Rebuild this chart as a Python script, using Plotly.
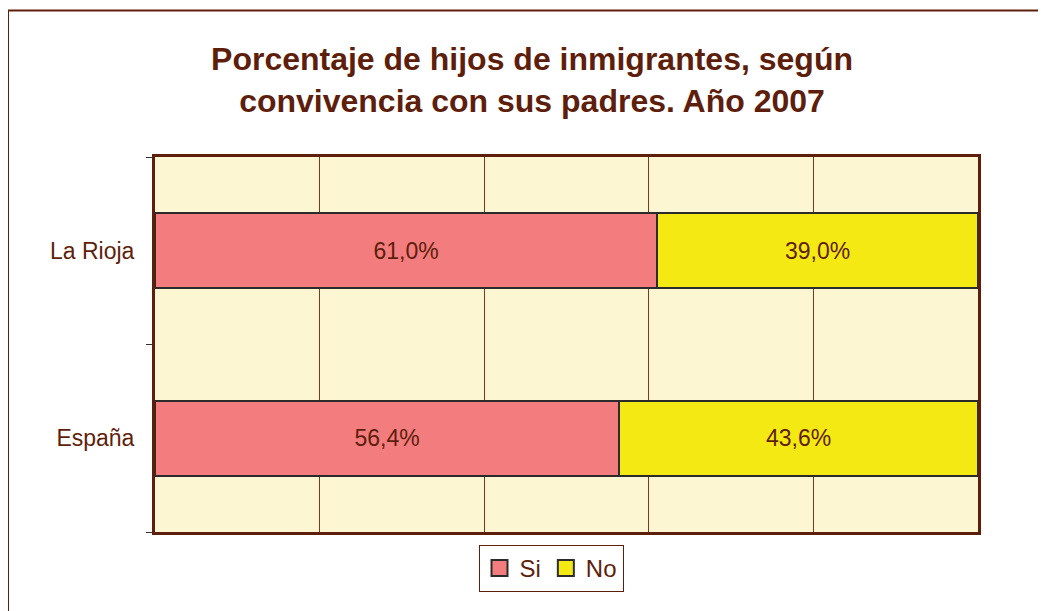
import plotly.graph_objects as go

categories = ["La Rioja", "España"]
si_values = [61.0, 56.4]
no_values = [39.0, 43.6]
series_names = ["Si", "No"]
title_text = "Porcentaje de hijos de inmigrantes, según<br>convivencia con sus padres. Año 2007"

BROWN = "#5E1E0C"
BAR_LINE = "#2B2B2B"
SI_COLOR = "#F37C7E"
NO_COLOR = "#F5E914"
FONT = "Liberation Sans, Arial"

W, H = 1038, 603
L, R, T, B = 147, 68, 149, 79
PW, PH = W - L - R, H - T - B

def fmt(v):
    return f"{v:.1f}%".replace(".", ",")

fig = go.Figure()
for name, vals, color in [(series_names[0], si_values, SI_COLOR),
                          (series_names[1], no_values, NO_COLOR)]:
    fig.add_trace(go.Bar(
        y=categories, x=vals, orientation="h", name=name, showlegend=False,
        marker=dict(color=color, line=dict(color=BAR_LINE, width=2)),
        text=[fmt(v) for v in vals], textposition="inside",
        insidetextanchor="middle",
        textfont=dict(family=FONT, size=23, color=BROWN),
        hoverinfo="skip",
    ))
# legend proxies with larger square symbols
for name, color in [(series_names[0], SI_COLOR), (series_names[1], NO_COLOR)]:
    fig.add_trace(go.Scatter(
        x=[None], y=[None], mode="markers", name=name,
        marker=dict(symbol="square", size=17, color=color,
                    line=dict(color=BAR_LINE, width=2)),
        hoverinfo="skip",
    ))

fig.update_layout(
    barmode="stack",
    bargap=0.6,
    width=W, height=H,
    margin=dict(l=L, r=R, t=T, b=B),
    paper_bgcolor="white",
    plot_bgcolor="#FCF7D2",
    font=dict(family=FONT, color=BROWN),
    title=dict(text="<b>" + title_text + "</b>", x=524/W, xanchor="center",
               xref="container", y=1 - 62/H, yanchor="middle", yref="container",
               font=dict(size=32, color=BROWN, family=FONT)),
    showlegend=True,
    legend=dict(orientation="h", x=(543-L)/PW, xanchor="center",
                y=-13/PH, yanchor="top", bordercolor=BROWN, borderwidth=1,
                font=dict(size=24, color=BROWN), traceorder="normal",
                itemwidth=30, bgcolor="white", tracegroupgap=0),
)
fig.update_xaxes(range=[0, 100], dtick=20, showticklabels=False,
                 showgrid=True, gridcolor="#7A3A22", gridwidth=1,
                 showline=True, linecolor=BROWN, linewidth=3, mirror=True,
                 zeroline=False, ticks="")
fig.update_yaxes(categoryorder="array", categoryarray=categories[::-1],
                 showline=True, linecolor=BROWN, linewidth=3, mirror=True,
                 ticks="outside", tickson="boundaries", ticklen=6,
                 tickcolor="#333333", ticklabelstandoff=13,
                 tickfont=dict(size=23, color=BROWN, family=FONT), showgrid=False)

fig.add_shape(type="rect", xref="paper", yref="paper",
              x0=(0 - L)/PW, x1=1.3, y0=-0.5, y1=1 + (T - 2.5)/PH,
              line=dict(color=BROWN, width=2), fillcolor="rgba(0,0,0,0)",
              layer="below")

fig.write_html("out.html")
